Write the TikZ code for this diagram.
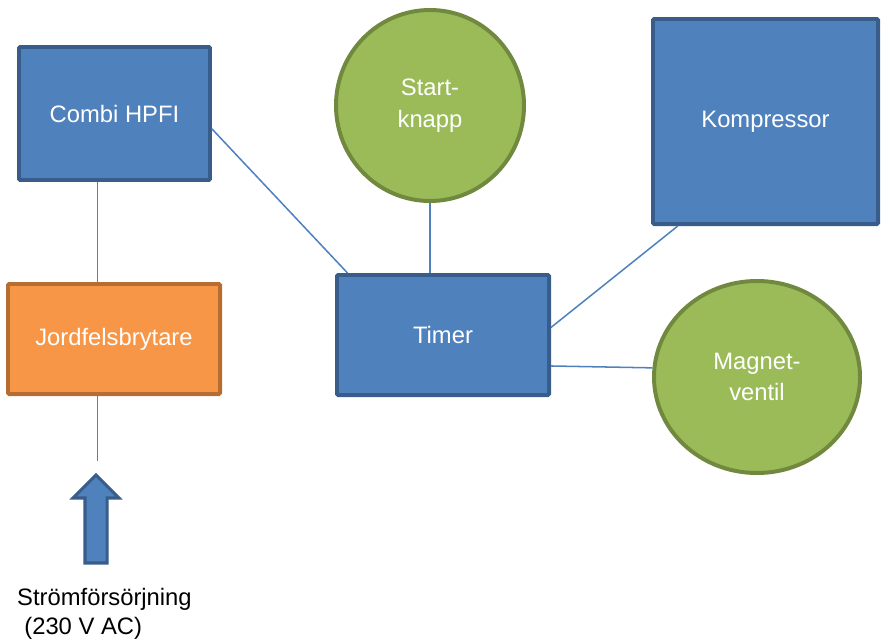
\documentclass[tikz,border=0pt]{standalone}
\usepackage{fontspec}
\setmainfont{Liberation Sans}
\usepackage{tikz}
\usetikzlibrary{shapes.geometric,shapes.arrows,positioning}
\definecolor{pblue}{RGB}{79,129,189}
\definecolor{pbluedark}{RGB}{56,93,138}
\definecolor{porange}{RGB}{247,150,70}
\definecolor{porangedark}{RGB}{182,109,49}
\definecolor{pgreen}{RGB}{155,187,89}
\definecolor{pgreendark}{RGB}{113,137,63}
\tikzstyle{link} = [line width=1.3pt,color=pblue]
\tikzstyle{unit} = [rectangle, rounded corners=1pt, line width=3.4pt, draw=pbluedark, fill=pblue, text=white, align=center, font=\fontsize{20.3}{25}\selectfont]
\tikzstyle{button} = [ellipse, line width=3.4pt, draw=pgreendark, fill=pgreen, text=white, align=center, inner sep=0pt, font=\fontsize{20.3}{27}\selectfont]

\begin{document}
\begin{tikzpicture}[x=0.03cm,y=-0.03cm]
\useasboundingbox (0,0) rectangle (881,643);
% Boxes
\node (combi) [unit, minimum width=5.73cm, minimum height=3.99cm] at (114.5,113.5) {Combi HPFI};
\node (jord) [unit, draw=porangedark, fill=porange, minimum width=6.36cm, minimum height=3.3cm] at (114,339) {Jordfelsbrytare};
\node (timer) [unit, minimum width=6.36cm, minimum height=3.6cm] at (443,335) {Timer};
\node (komp) [unit, minimum width=6.75cm, minimum height=6.15cm] at (765.5,121.5) {Kompressor};
\node (start) [button, minimum width=5.64cm, minimum height=5.73cm] at (430,105.5) {Start-\\knapp};
\node (magnet) [button, minimum width=6.18cm, minimum height=5.76cm] at (757,377) {Magnet-\\ventil};

% Supply
\node (supply) [single arrow, rotate=90, line width=2.6pt, draw=pbluedark, fill=pblue, minimum height=2.64cm, inner sep=0.285cm, single arrow head extend=0.36cm] at (96,524.5) {};
\coordinate (feed) at (97.5,461);
\node (supplytext) [anchor=west, align=left, inner sep=0pt, font=\fontsize{20.3}{25}\selectfont] at (17,614) {Strömförsörjning\\\hspace*{0.3em}(230 V AC)};

% Wires
\draw[link] (combi.south -| feed) -- (jord.north -| feed);
\draw[link] (jord.south -| feed) -- (feed);
\draw[link] (combi.-9) -- (timer.147);
\draw[link] (start.south) -- (start.south |- timer.north);
\draw[link] (komp.-130) -- (timer.4);
\draw[link] (timer.-16) -- (magnet.175);
\end{tikzpicture}
\end{document}
